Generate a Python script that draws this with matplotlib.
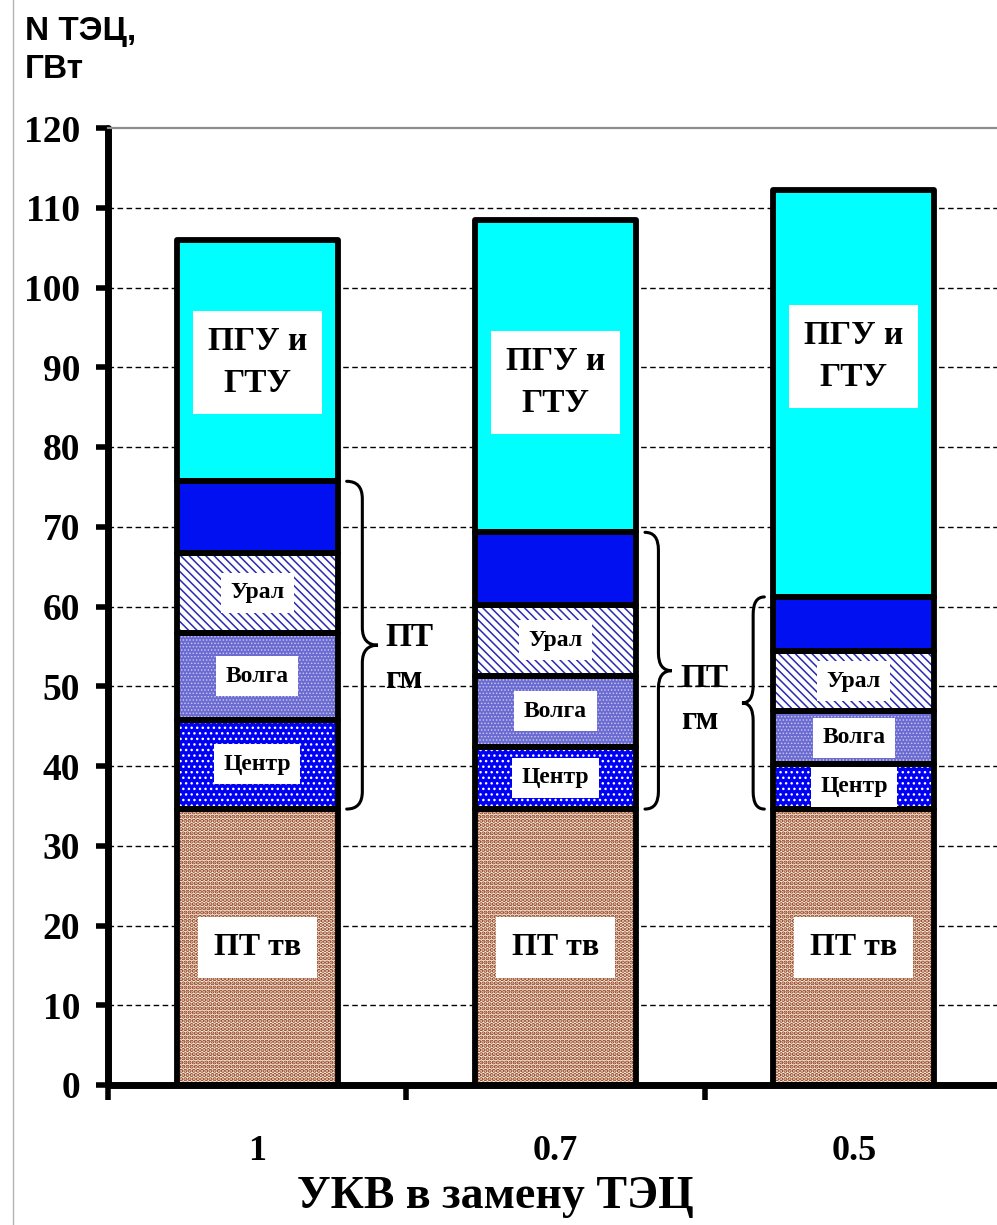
import matplotlib
matplotlib.use("Agg")
import matplotlib.pyplot as plt
from matplotlib.path import Path
from matplotlib.patches import PathPatch
from matplotlib.lines import Line2D
import numpy as np

# ---- data (GW) ----
categories = ["1", "0.7", "0.5"]
pt_tv = [34.6, 34.6, 34.6]
centr = [11.2, 7.8, 5.6]
volga = [10.9, 8.9, 6.7]
ural = [10.0, 8.9, 7.5]
pt_gm_other = [9.0, 9.1, 6.8]
pgu_gtu = [30.3, 39.2, 51.0]
y_ticks = list(range(0, 121, 10))

SERIF = "Liberation Serif"
SANS = "Liberation Sans"

W, H = 997, 1225
fig = plt.figure(figsize=(W / 100, H / 100), dpi=100)
fig.patch.set_facecolor("white")

# axes placed in pixel units; the right edge runs slightly past the figure
left_px, right_px, bottom_px, top_px = 108, 1003, 1085, 128
ax = fig.add_axes([left_px / W, 1 - bottom_px / H,
                   (right_px - left_px) / W, (bottom_px - top_px) / H])

x = np.arange(len(categories))
bar_w = 0.54

# segment styles: (values, face, hatch, hatch colour, hatch linewidth)
segments = [
    (pt_tv, "#fff0e2", "....", "#8a3c1c", 2.1),
    (centr, "#0000f4", "...", "#ffffff", 1.0),
    (volga, "#6a6ad0", ".....", "#c4c4f2", 0.7),
    (ural, "#ffffff", "\\\\\\\\", "#2a2ab4", 1.1),
    (pt_gm_other, "#0010f0", None, None, 0),
    (pgu_gtu, "#00ffff", None, None, 0),
]

bottoms = np.zeros(len(categories))
seg_bounds = []
for vals, face, hatch, hcol, hlw in segments:
    vals = np.asarray(vals, dtype=float)
    with plt.rc_context({"hatch.linewidth": max(hlw, 0.1)}):
        bars = ax.bar(x, vals, bar_w, bottom=bottoms, color=face,
                      hatch=hatch, edgecolor=hcol if hcol else face,
                      linewidth=0, zorder=2)
    if hatch:
        for b in bars:
            if hasattr(b, "set_hatch_linewidth"):
                b.set_hatch_linewidth(hlw)
    ax.bar(x, vals, bar_w, bottom=bottoms, fill=False, edgecolor="black",
           linewidth=4.2, zorder=3, joinstyle="round")
    seg_bounds.append((bottoms.copy(), bottoms + vals))
    bottoms = bottoms + vals

# dashed grid lines behind the bars
for yv in y_ticks[1:-1]:
    ax.axhline(yv, color="black", lw=1.0, ls=(0, (4, 2.5)), zorder=1)

ax.set_xlim(-0.5, 2.5)
ax.set_ylim(0, 120)

# spines
for s in ("left", "bottom"):
    ax.spines[s].set_linewidth(5)
    ax.spines[s].set_color("black")
    ax.spines[s].set_capstyle("round")
ax.spines["top"].set_color("#8c8c8c")
ax.spines["top"].set_linewidth(1.6)
ax.spines["right"].set_visible(False)

ax.set_yticks(y_ticks)
ax.set_yticklabels([str(v) for v in y_ticks], fontfamily=SERIF,
                   fontweight="bold", fontsize=27)
ax.tick_params(axis="y", direction="out", length=9, width=4, pad=11)

ax.set_xticks(x)
ax.set_xticklabels(categories, fontfamily=SERIF, fontweight="bold",
                   fontsize=26)
ax.tick_params(axis="x", which="major", length=0, pad=36)
ax.set_xticks([-0.5, 0.5, 1.5, 2.5], minor=True)
ax.tick_params(axis="x", which="minor", direction="out", length=11, width=4)

# ---- labels inside the bars ----
def box_label(xc, yc, text, size, pad):
    ax.text(xc, yc, text, ha="center", va="center", fontfamily=SERIF,
            fontweight="bold", fontsize=size, zorder=5, linespacing=1.45,
            bbox=dict(boxstyle=f"square,pad={pad}", fc="white", ec="none"))

pgu_label_y = [90.6, 88.1, 91.3]
for i in range(len(categories)):
    lo, hi = seg_bounds[0]
    box_label(x[i], (lo[i] + hi[i]) / 2, "ПТ тв", 23, 0.5)
    for k, name in ((1, "Центр"), (2, "Волга"), (3, "Урал")):
        lo, hi = seg_bounds[k]
        box_label(x[i], (lo[i] + hi[i]) / 2, name, 17, 0.4)
    box_label(x[i], pgu_label_y[i], "ПГУ и\nГТУ", 24, 0.45)

# ---- curly braces around the ПТ гм group ----
def brace(x0, x1, y0, y1, r=2.2):
    xm = (x0 + x1) / 2
    ym = (y0 + y1) / 2
    verts = [(x0, y0), (xm, y0), (xm, y0 + r),
             (xm, ym - r), (xm, ym), (x1, ym),
             (xm, ym), (xm, ym + r),
             (xm, y1 - r), (xm, y1), (x0, y1)]
    codes = [Path.MOVETO, Path.CURVE3, Path.CURVE3,
             Path.LINETO, Path.CURVE3, Path.CURVE3,
             Path.CURVE3, Path.CURVE3,
             Path.LINETO, Path.CURVE3, Path.CURVE3]
    ax.add_patch(PathPatch(Path(verts, codes), fill=False, lw=2.2,
                           ec="black", zorder=4, capstyle="round"))

gm_lo = seg_bounds[1][0]
gm_hi = seg_bounds[4][1]
brace(0.30, 0.405, gm_lo[0], gm_hi[0])
brace(1.30, 1.39, gm_lo[1], gm_hi[1])
brace(1.70, 1.625, gm_lo[2], gm_hi[2])

for xt, yt in ((0.43, 53.5), (1.42, 48.3)):
    ax.text(xt, yt, "ПТ\nгм", ha="left", va="center", fontfamily=SERIF,
            fontweight="bold", fontsize=24, linespacing=1.45, zorder=5)

# ---- axis titles ----
fig.text(25 / W, 1 - 16 / H, "N ТЭЦ,\nГВт", ha="left", va="top",
         fontfamily=SANS, fontweight="bold", fontsize=24, linespacing=1.3)
fig.text(495 / W, 1 - 1197 / H, "УКВ в замену ТЭЦ", ha="center",
         va="center", fontfamily=SERIF, fontweight="bold", fontsize=33)

# thin frame line on the left margin
fig.add_artist(Line2D([13 / W, 13 / W], [0, 1], transform=fig.transFigure,
                      color="#b4b4b4", lw=1))

fig.savefig("out.png", dpi=100)
